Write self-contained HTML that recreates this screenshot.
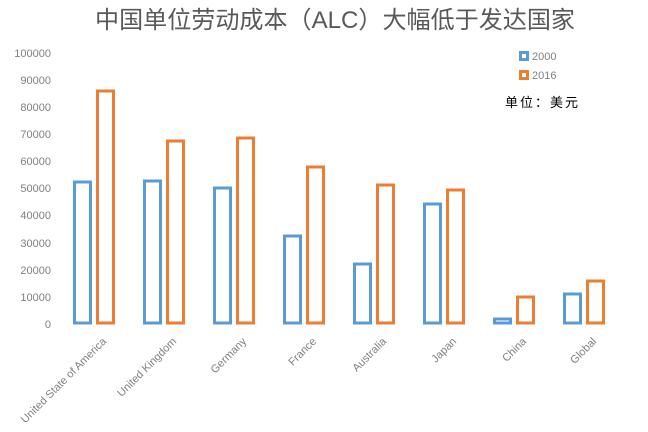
<!DOCTYPE html>
<html><head><meta charset="utf-8"><style>body{margin:0;background:#fff}svg{display:block}</style></head>
<body>
<svg width="648" height="432" viewBox="0 0 648 432" xmlns="http://www.w3.org/2000/svg">
<rect width="648" height="432" fill="#fff"/>
<text x="335" y="28" text-anchor="middle" font-family="'Liberation Sans','Noto Sans CJK SC',sans-serif" font-size="24" fill="#595959" textLength="480" lengthAdjust="spacingAndGlyphs">中国单位劳动成本（ALC）大幅低于发达国家</text>
<g font-family="'Liberation Sans',sans-serif" font-size="11" fill="#808080" text-anchor="end">
<text x="51" y="57">100000</text>
<text x="51" y="84">90000</text>
<text x="51" y="111">80000</text>
<text x="51" y="138">70000</text>
<text x="51" y="165">60000</text>
<text x="51" y="192">50000</text>
<text x="51" y="219">40000</text>
<text x="51" y="247">30000</text>
<text x="51" y="274">20000</text>
<text x="51" y="301">10000</text>
<text x="51" y="328">0</text>
</g>
<g fill="none" stroke-width="3">
<g stroke="#5b9bd5">
<rect x="74.5" y="182" width="16" height="141"/>
<rect x="144.5" y="181" width="16" height="142"/>
<rect x="214.5" y="188" width="16" height="135"/>
<rect x="284.5" y="236" width="16" height="87"/>
<rect x="354.5" y="264" width="16" height="59"/>
<rect x="424.5" y="204" width="16" height="119"/>
<rect x="494.5" y="319" width="16" height="4"/>
<rect x="564.5" y="294" width="16" height="29"/>
</g>
<g stroke="#ed7d31">
<rect x="97.5" y="91" width="16" height="232"/>
<rect x="167.5" y="141" width="16" height="182"/>
<rect x="237.5" y="138" width="16" height="185"/>
<rect x="307.5" y="167" width="16" height="156"/>
<rect x="377.5" y="185" width="16" height="138"/>
<rect x="447.5" y="190" width="16" height="133"/>
<rect x="517.5" y="297" width="16" height="26"/>
<rect x="587.5" y="281" width="16" height="42"/>
</g>
<rect x="520.5" y="52.5" width="7" height="7" stroke="#5b9bd5"/>
<rect x="520.5" y="71.5" width="7" height="7" stroke="#ed7d31"/>
</g>
<g font-family="'Liberation Sans',sans-serif" font-size="11" fill="#808080">
<text x="532" y="60">2000</text>
<text x="532" y="79">2016</text>
</g>
<text x="505" y="107" font-family="'Liberation Sans','Noto Sans CJK SC',sans-serif" font-size="13" fill="#000" textLength="73" lengthAdjust="spacing">单位：美元</text>
<g font-family="'Liberation Sans',sans-serif" font-size="11" fill="#808080" text-anchor="end">
<text transform="translate(107,342) rotate(-45)">United State of America</text>
<text transform="translate(177,342) rotate(-45)">United Kingdom</text>
<text transform="translate(247,342) rotate(-45)">Germany</text>
<text transform="translate(317,342) rotate(-45)">France</text>
<text transform="translate(387,342) rotate(-45)">Australia</text>
<text transform="translate(457,342) rotate(-45)">Japan</text>
<text transform="translate(527,342) rotate(-45)">China</text>
<text transform="translate(597,342) rotate(-45)">Global</text>
</g>
</svg>
</body></html>
